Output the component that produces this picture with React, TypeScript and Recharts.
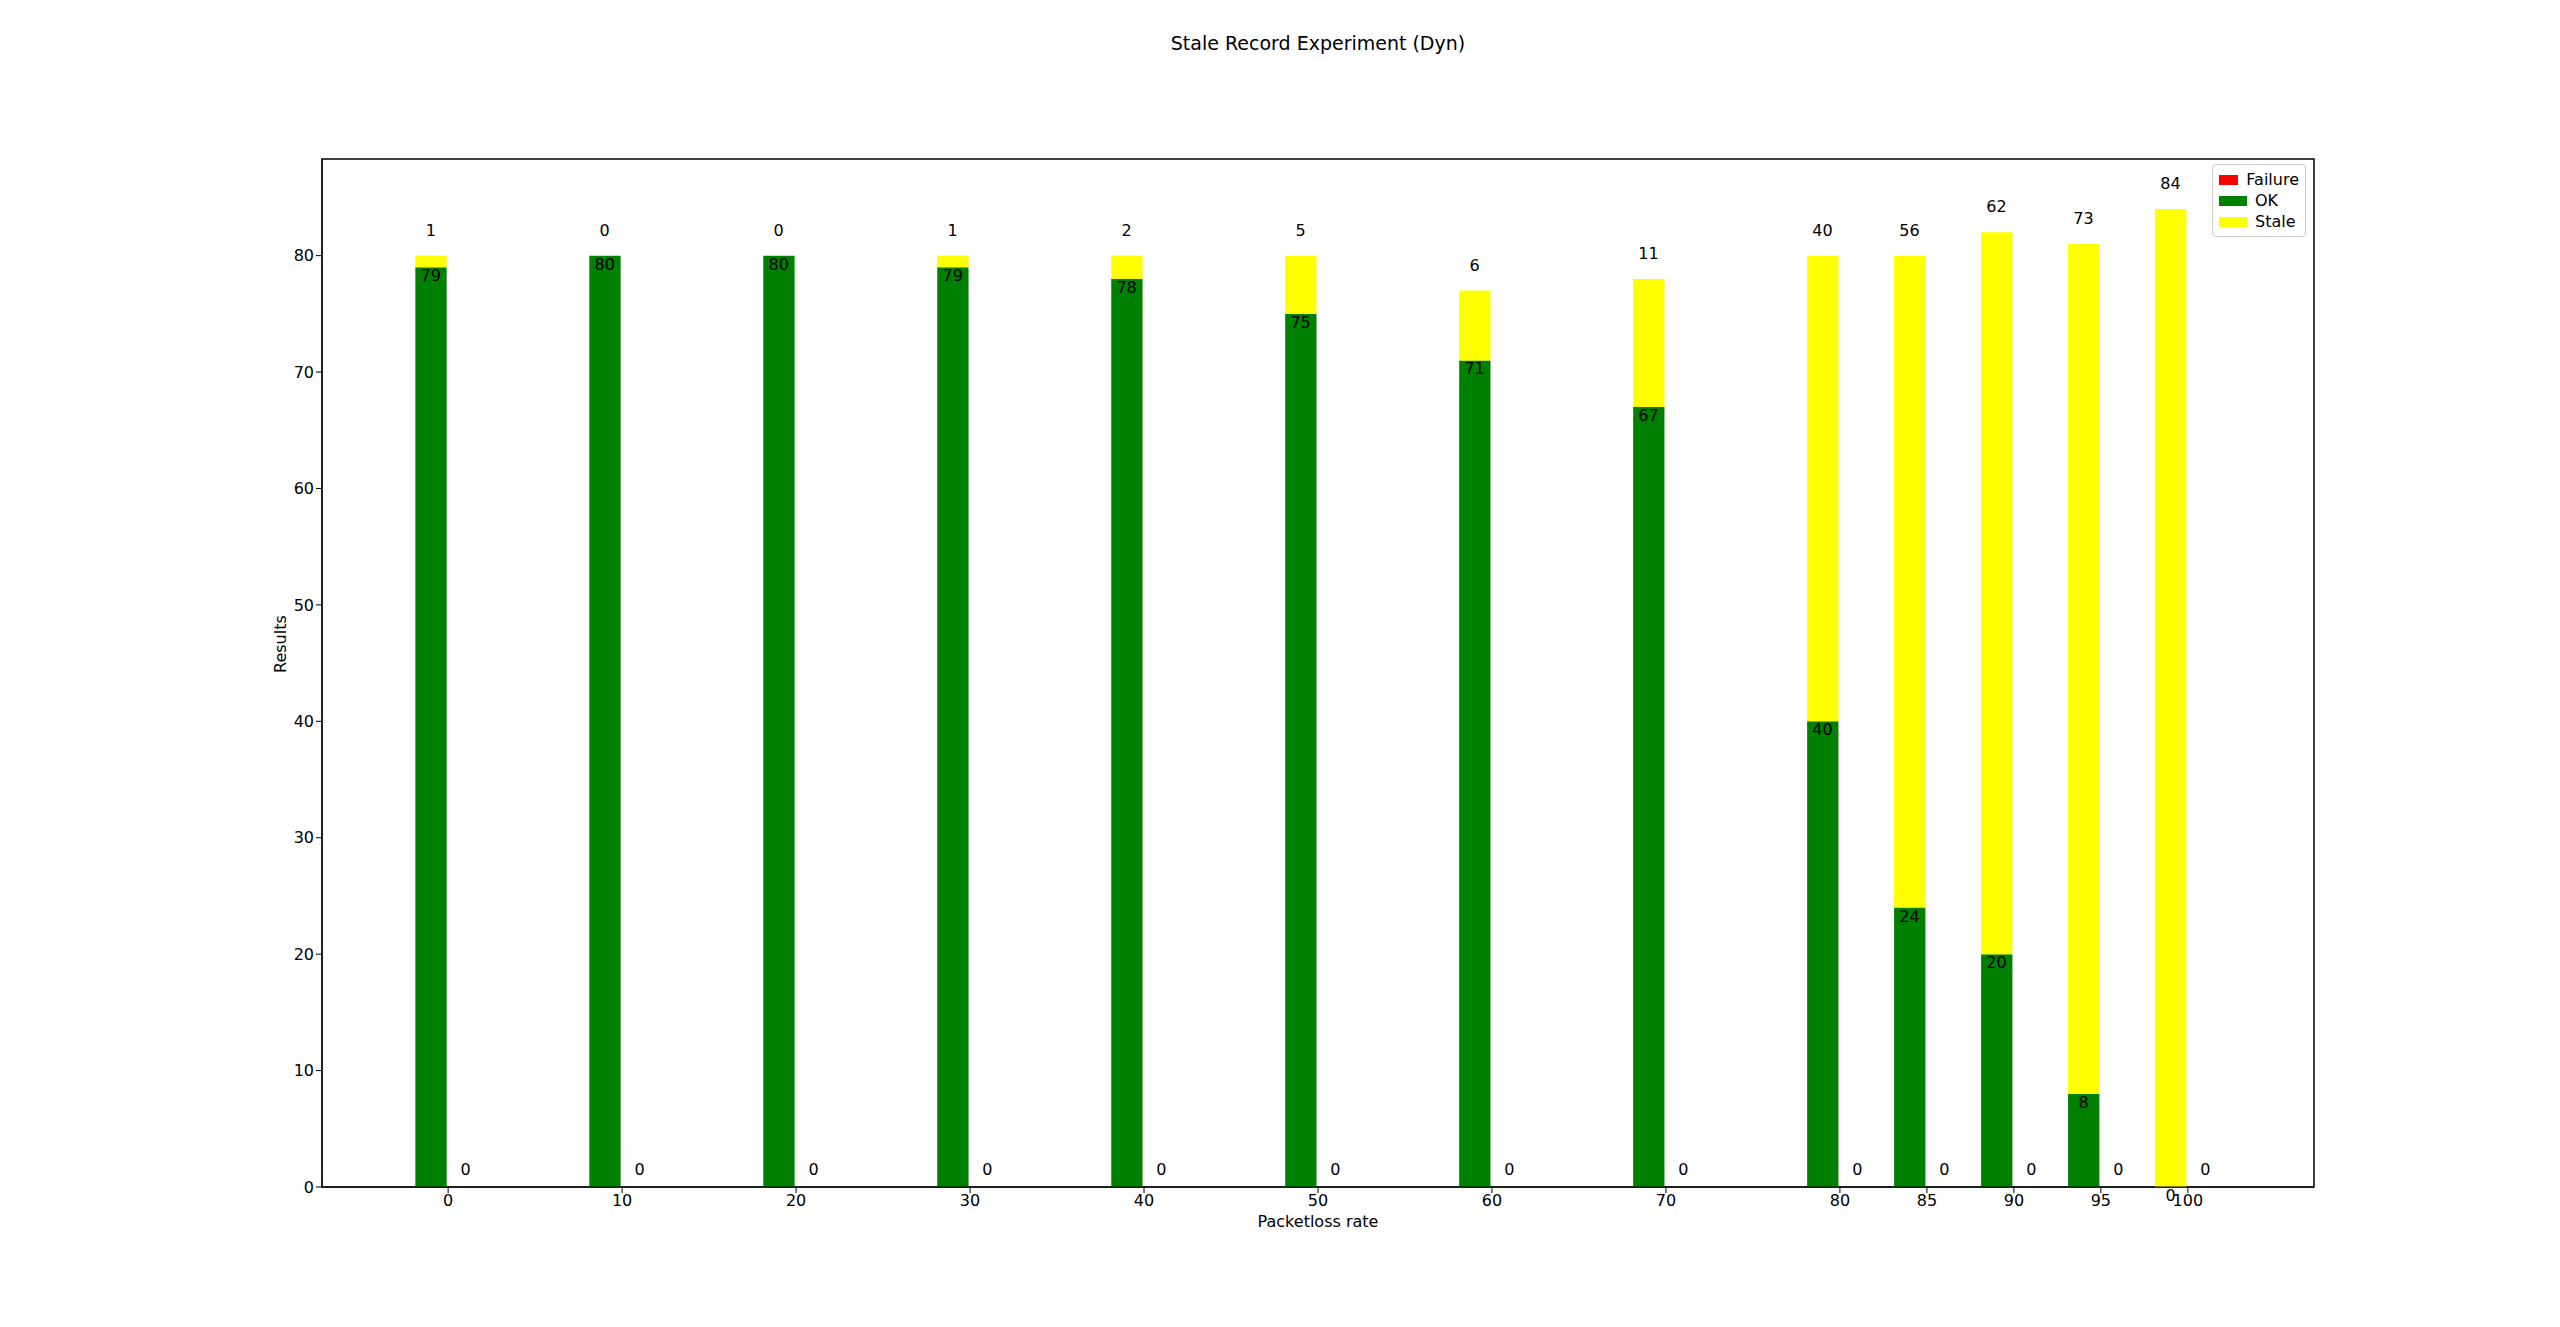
import React from "react";
import {
  ComposedChart,
  Bar,
  Line,
  XAxis,
  YAxis,
  LabelList,
  ReferenceArea,
} from "recharts";

const rates = [0, 10, 20, 30, 40, 50, 60, 70, 80, 85, 90, 95, 100];
const okCounts = [79, 80, 80, 79, 78, 75, 71, 67, 40, 24, 20, 8, 0];
const staleCounts = [1, 0, 0, 1, 2, 5, 6, 11, 40, 56, 62, 73, 84];
const failureCounts = [0, 0, 0, 0, 0, 0, 0, 0, 0, 0, 0, 0, 0];
const yTicks = [0, 10, 20, 30, 40, 50, 60, 70, 80];

// stacked OK/Stale bar sits left of the tick, failure bar right of it
const data = rates.flatMap((r, i) => [
  {
    x: r - 1,
    ok: okCounts[i],
    stale: staleCounts[i],
    okTop: okCounts[i],
    staleTop: okCounts[i] + staleCounts[i],
  },
  { x: r + 1, failure: failureCounts[i], failTop: failureCounts[i] },
]);

const FONT = "DejaVu Sans, sans-serif";

const textLabel = (dy: number) => (props: any) => {
  const { x, y, value } = props;
  if (value === undefined || value === null || x == null || y == null) return null;
  return (
    <text x={x} y={y + dy} textAnchor="middle" fontSize={16} fontFamily={FONT} fill="#000">
      {value}
    </text>
  );
};

const legendItems = [
  { name: "Failure", color: "#ff0000" },
  { name: "OK", color: "#008000" },
  { name: "Stale", color: "#ffff00" },
];

export default function App() {
  return (
    <div style={{ position: "fixed", left: 0, top: 0, width: 2560, height: 1327, background: "#fff" }}>
      <div
        style={{
          position: "absolute",
          top: 32,
          left: 1318,
          transform: "translateX(-50%)",
          whiteSpace: "nowrap",
          fontFamily: FONT,
          fontSize: 19,
        }}
      >
        Stale Record Experiment (Dyn)
      </div>
      <ComposedChart
        width={2560}
        height={1327}
        data={data}
        margin={{ top: 159, right: 246, bottom: 80, left: 262 }}
        barSize={35}
      >
        <XAxis
          dataKey="x"
          type="number"
          domain={[-7.25, 107.25]}
          ticks={rates}
          tickLine={{ stroke: "#000" }}
          axisLine={{ stroke: "#000" }}
          tick={{ fontSize: 16, fontFamily: FONT, fill: "#000" }}
          height={60}
          allowDataOverflow
          label={{ value: "Packetloss rate", position: "insideBottom", offset: 20, fontSize: 16, fontFamily: FONT, fill: "#000" }}
        />
        <YAxis
          type="number"
          domain={[0, 88.3]}
          ticks={yTicks}
          tickLine={{ stroke: "#000" }}
          axisLine={{ stroke: "#000" }}
          tick={{ fontSize: 16, fontFamily: FONT, fill: "#000" }}
          width={60}
          allowDataOverflow
          label={{ value: "Results", angle: -90, position: "insideLeft", offset: 18, fontSize: 16, fontFamily: FONT, fill: "#000" }}
        />
        <ReferenceArea x1={-7.25} x2={107.25} y1={0} y2={88.3} fill="none" stroke="#000" strokeWidth={1.5} />
        <Bar dataKey="failure" stackId="a" fill="#ff0000" isAnimationActive={false} />
        <Bar dataKey="ok" stackId="a" fill="#008000" isAnimationActive={false} />
        <Bar dataKey="stale" stackId="a" fill="#ffff00" isAnimationActive={false} />
        <Line dataKey="failTop" stroke="none" dot={false} activeDot={false} isAnimationActive={false} connectNulls={false}>
          <LabelList dataKey="failure" content={textLabel(-12)} />
        </Line>
        <Line dataKey="okTop" stroke="none" dot={false} activeDot={false} isAnimationActive={false} connectNulls={false}>
          <LabelList dataKey="ok" content={textLabel(14)} />
        </Line>
        <Line dataKey="staleTop" stroke="none" dot={false} activeDot={false} isAnimationActive={false} connectNulls={false}>
          <LabelList dataKey="stale" content={textLabel(-20)} />
        </Line>
      </ComposedChart>
      <div
        style={{
          position: "absolute",
          top: 164,
          left: 2212,
          width: 94,
          border: "1px solid #ccc",
          borderRadius: 4,
          padding: "4px 6px",
          fontFamily: FONT,
          fontSize: 16,
          background: "#fff",
          boxSizing: "border-box",
        }}
      >
        {legendItems.map((it) => (
          <div key={it.name} style={{ display: "flex", alignItems: "center", height: 21 }}>
            <span style={{ display: "inline-block", width: 28, height: 10, background: it.color, marginRight: 8 }} />
            {it.name}
          </div>
        ))}
      </div>
    </div>
  );
}
